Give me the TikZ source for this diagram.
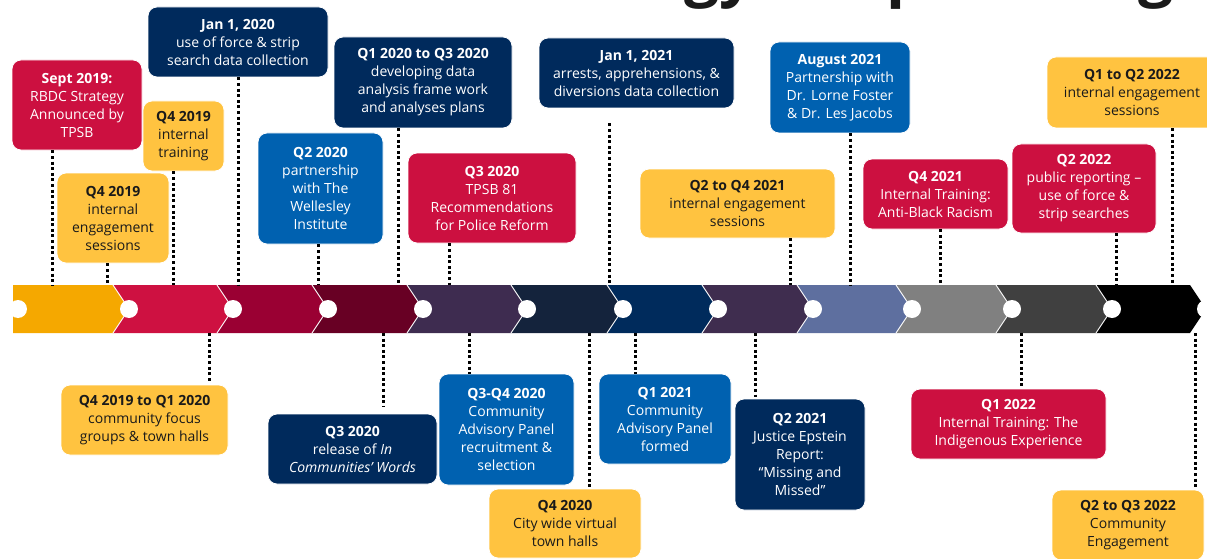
\documentclass[tikz,border=0pt]{standalone}
\usepackage{fontspec}
\setmainfont{Open Sans}
\definecolor{crim}{HTML}{CC1040}
\definecolor{yel}{HTML}{FFC340}
\definecolor{navy}{HTML}{002A5C}
\definecolor{blu}{HTML}{0061B0}
\definecolor{ink}{HTML}{1A1A1A}
\definecolor{sA}{HTML}{F5A800}
\definecolor{sB}{HTML}{CE1141}
\definecolor{sC}{HTML}{9A0033}
\definecolor{sD}{HTML}{680024}
\definecolor{sE}{HTML}{3E2C50}
\definecolor{sF}{HTML}{14233C}
\definecolor{sG}{HTML}{002B5C}
\definecolor{sH}{HTML}{3F2D4F}
\definecolor{sI}{HTML}{5E6F9F}
\definecolor{sJ}{HTML}{808080}
\definecolor{sK}{HTML}{404040}
\definecolor{sL}{HTML}{000000}
\begin{document}
\begin{tikzpicture}[x=1pt,y=-1pt,
  box/.style={rounded corners=9pt, draw=white, line width=0.8pt, align=center, inner sep=0pt,
    font=\fontsize{14}{18}\selectfont},
  crimbox/.style={box, fill=crim, text=white},
  yelbox/.style={box, fill=yel, text=ink},
  navybox/.style={box, fill=navy, text=white},
  blubox/.style={box, fill=blu, text=white},
  dotc/.style={line width=3pt, dash pattern=on 3pt off 2.6pt, black},
  titlefrag/.style={anchor=base west, inner sep=0pt, text=ink, font=\fontsize{62}{62}\selectfont\bfseries}]
\useasboundingbox (0,0) rectangle (1207,559);
\clip (0,0) rectangle (1207,559);

% cut-off title (only descenders visible)
\node[titlefrag] (tg1) at (684,-5) {gy};
\node[titlefrag] (tg2) at (886,-5) {p};
\node[titlefrag] (tg3) at (1138,-5) {g};

% timeline bar
\fill[sA] (13,285) -- (113,285) -- (129,309) -- (113,333) -- (13,333) -- cycle;
\foreach \a/\b/\c in {129/233/sB, 233/328/sC, 328/423/sD, 423/527/sE, 527/623/sF, 623/718/sG,
  718/813/sH, 813/912/sI, 912/1012/sJ, 1012/1112/sK, 1112/1206/sL}{
  \fill[\c] ({\a-16},285) -- ({\b-16},285) -- (\b,309) -- ({\b-16},333) -- ({\a-16},333) -- (\a,309) -- cycle;
  \draw[white, line width=0.9pt] ({\a-16},285) -- (\a,309) -- ({\a-16},333);
}
\foreach \p in {18,129,233,328,423,527,623,718,813,912,1012,1112,1206}{
  \fill[white] (\p,309) circle (9pt);
}

% top boxes
\node[crimbox, minimum width=130pt, minimum height=90pt] (b1) at (77,105) {\textbf{Sept 2019:}\\RBDC Strategy\\Announced by\\TPSB};
\node[yelbox, minimum width=112pt, minimum height=90pt] (b2) at (113,218) {\textbf{Q4 2019}\\internal\\engagement\\sessions};
\node[yelbox, minimum width=81pt, minimum height=70pt] (b3) at (183.5,136) {\textbf{Q4 2019}\\internal\\training};
\node[navybox, minimum width=180pt, minimum height=70pt] (b4) at (238,42) {\textbf{Jan 1, 2020}\\use of force \& strip\\search data collection};
\node[blubox, minimum width=125pt, minimum height=111pt] (b5) at (320.5,188.5) {\textbf{Q2 2020}\\partnership\\with The\\Wellesley\\Institute};
\node[navybox, minimum width=178pt, minimum height=91pt] (b6) at (423,82.5) {\textbf{Q1 2020 to Q3 2020}\\developing data\\analysis frame work\\and analyses plans};
\node[crimbox, minimum width=168pt, minimum height=90pt] (b7) at (492,198) {\textbf{Q3 2020}\\TPSB 81\\Recommendations\\for Police Reform};
\node[navybox, minimum width=195pt, minimum height=70pt] (b8) at (636.5,73) {\textbf{Jan 1, 2021}\\arrests, apprehensions, \&\\diversions data collection};
\node[yelbox, minimum width=195pt, minimum height=69pt] (b9) at (737.5,203.5) {\textbf{Q2 to Q4 2021}\\internal engagement\\sessions};
\node[blubox, minimum width=140pt, minimum height=91pt] (b10) at (840,87.5) {\textbf{August 2021}\\Partnership with\\Dr. Lorne Foster\\\& Dr. Les Jacobs};
\node[crimbox, minimum width=145pt, minimum height=70pt] (b11) at (935.5,194) {\textbf{Q4 2021}\\Internal Training:\\Anti-Black Racism};
\node[crimbox, minimum width=144pt, minimum height=89pt] (b12) at (1084,188.5) {\textbf{Q2 2022}\\public reporting –\\use of force \&\\strip searches};
\node[yelbox, minimum width=170pt, minimum height=71pt] (b13) at (1132,92.5) {\textbf{Q1 to Q2 2022}\\internal engagement\\sessions};

% bottom boxes
\node[yelbox, minimum width=167pt, minimum height=70pt] (b14) at (144.5,420) {\textbf{Q4 2019 to Q1 2020}\\community focus\\groups \& town halls};
\node[navybox, minimum width=169pt, minimum height=70pt] (b15) at (352.5,449) {\textbf{Q3 2020}\\release of \textit{In}\\\textit{Communities’ Words}};
\node[blubox, minimum width=135pt, minimum height=111pt] (b16) at (506.5,429.5) {\textbf{Q3-Q4 2020}\\Community\\Advisory Panel\\recruitment \&\\selection};
\node[yelbox, minimum width=152pt, minimum height=69pt] (b17) at (565,523.5) {\textbf{Q4 2020}\\City wide virtual\\town halls};
\node[blubox, minimum width=132pt, minimum height=90pt] (b18) at (665,419) {\textbf{Q1 2021}\\Community\\Advisory Panel\\formed};
\node[navybox, minimum width=130pt, minimum height=111pt] (b19) at (800,454.5) {\textbf{Q2 2021}\\Justice Epstein\\Report:\\“Missing and\\Missed”};
\node[crimbox, minimum width=195pt, minimum height=70pt] (b20) at (1008.5,424) {\textbf{Q1 2022}\\Internal Training: The\\Indigenous Experience};
\node[yelbox, minimum width=152pt, minimum height=70pt] (b21) at (1128,525) {\textbf{Q2 to Q3 2022}\\Community\\Engagement};

% connector ends on the bar
\foreach \n/\x in {1/52, 2/107, 3/173, 4/238, 5/318, 6/398, 7/449, 8/609, 9/790, 10/850, 11/940, 12/1116, 13/1172}{
  \coordinate (t\n) at (\x,285);
}
\foreach \n/\x in {14/209, 15/383, 16/469, 17/589, 18/635, 19/755, 20/1021, 21/1195}{
  \coordinate (u\n) at (\x,333);
}

% top connectors
\foreach \n in {1,2,3,4,5,6,7,9,10,11,12,13}{
  \draw[dotc] (b\n.south -| t\n) -- (t\n);
}
\draw[dotc] ([yshift=-15pt]b8.south -| t8) -- (t8);

% bottom connectors
\draw[dotc] (u14) -- ([yshift=3pt]b14.north -| u14);
\draw[dotc] (u15) -- ([yshift=7pt]b15.north -| u15);
\draw[dotc] (u16) -- (b16.north -| u16);
\draw[dotc] (u17) -- (b17.north -| u17);
\draw[dotc] (u18) -- (b18.north -| u18);
\draw[dotc] (u19) -- ([yshift=2pt]b19.north -| u19);
\draw[dotc] (u20) -- (b20.north -| u20);
\draw[dotc] (u21) -- (b21.north -| u21);
\end{tikzpicture}
\end{document}
